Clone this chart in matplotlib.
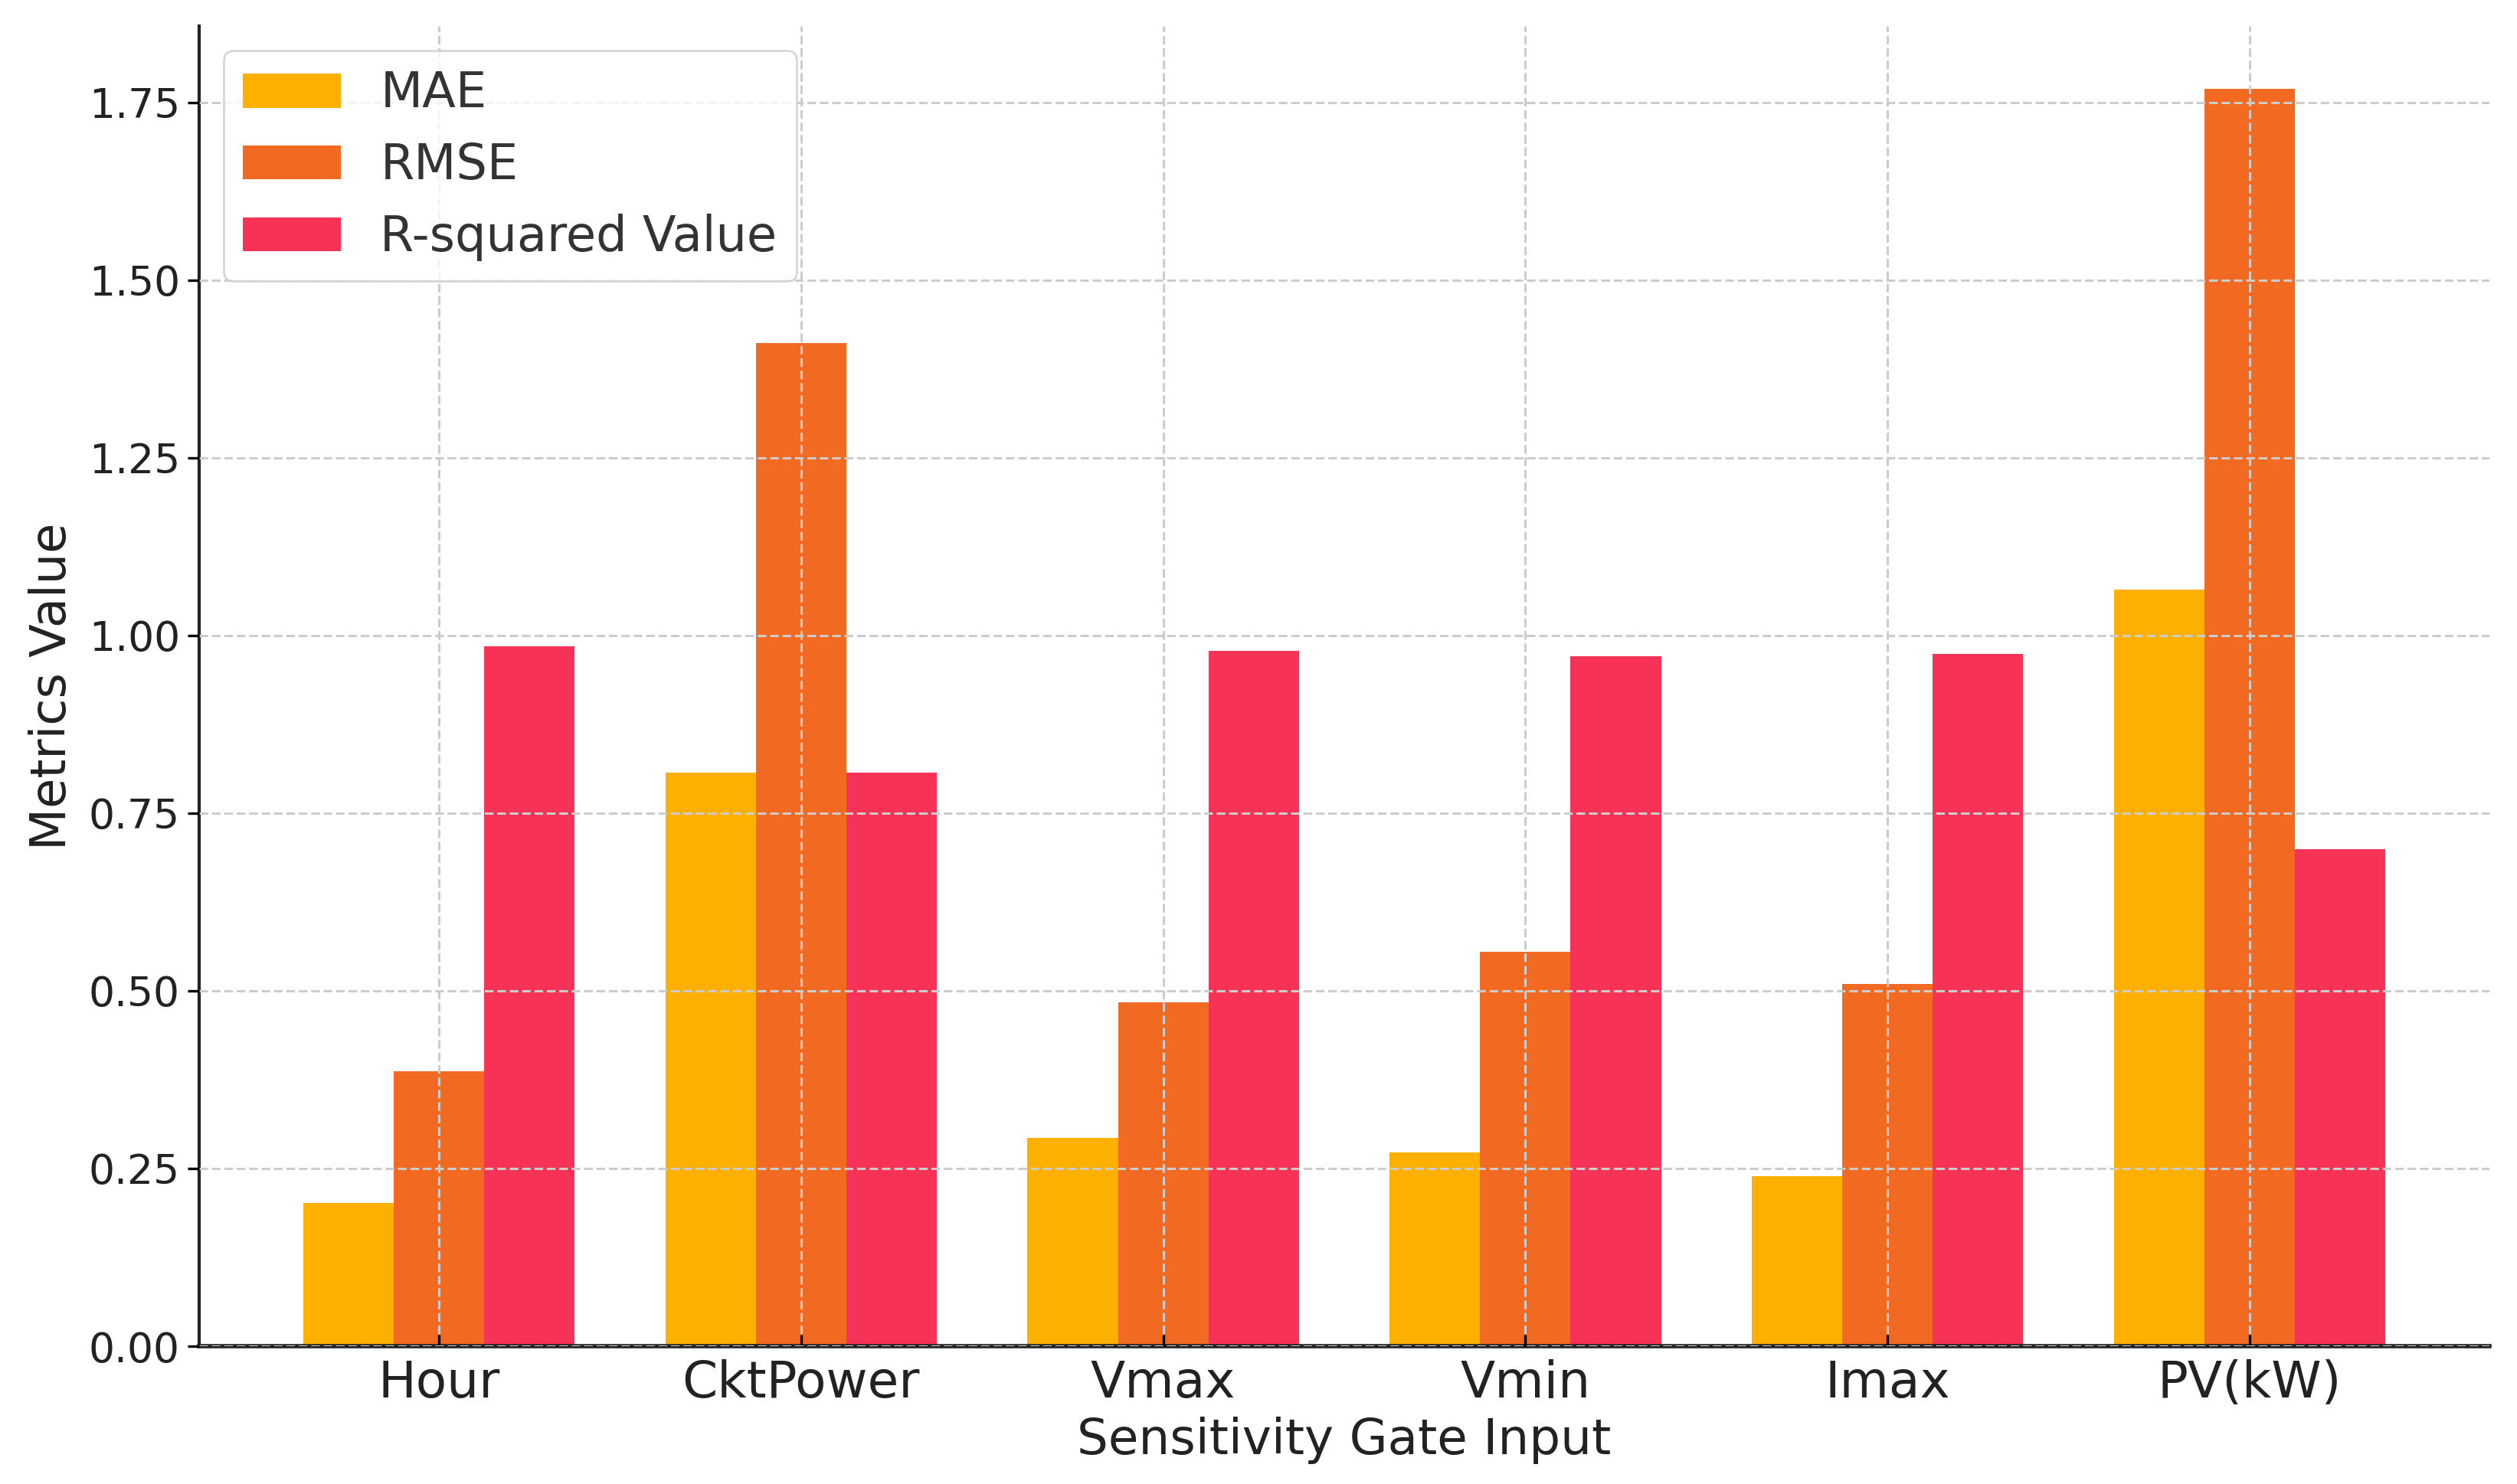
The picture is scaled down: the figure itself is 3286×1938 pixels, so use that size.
import matplotlib
matplotlib.use("Agg")
import matplotlib.pyplot as plt
import numpy as np

categories = ["Hour", "CktPower", "Vmax", "Vmin", "Imax", "PV(kW)"]
mae = [0.202, 0.807, 0.293, 0.273, 0.239, 1.064]
rmse = [0.387, 1.411, 0.484, 0.555, 0.510, 1.769]
r2 = [0.985, 0.807, 0.978, 0.971, 0.974, 0.699]
series_names = ["MAE", "RMSE", "R-squared Value"]
colors = ["#FEB000", "#F26A22", "#F63257"]

plt.rcParams['font.family'] = ['DejaVu Sans']
fig = plt.figure(figsize=(16.435, 9.69), dpi=200)
ax = fig.add_axes([260/3287, 1 - 1758/1938, (3250-260)/3287, (1758-34)/1938])

x = np.arange(len(categories))
w = 0.25
for i, (vals, name, c) in enumerate(zip([mae, rmse, r2], series_names, colors)):
    ax.bar(x + (i - 1) * w, vals, w, label=name, color=c)

ax.set_xticks(x)
ax.set_xticklabels(categories, fontsize=23.8, color="#222222")
ax.set_yticks([0, 0.25, 0.5, 0.75, 1.0, 1.25, 1.5, 1.75])
ax.set_yticklabels(["0.00", "0.25", "0.50", "0.75", "1.00", "1.25", "1.50", "1.75"], fontsize=19.3, color="#222222")
ax.tick_params(axis='x', direction='in', length=5.5, width=1.2, pad=6)
ax.tick_params(axis='y', direction='out', length=5.5, width=1.2)
ax.set_xlabel("Sensitivity Gate Input", fontsize=23.2, color="#222222", labelpad=4)
ax.set_ylabel("Metrics Value", fontsize=23, color="#222222", labelpad=6)

ax.set_axisbelow(False)
ax.grid(True, linestyle='--', color='#cccccc', linewidth=1.1)
for s in ['top', 'right']:
    ax.spines[s].set_visible(False)
ax.spines['left'].set_linewidth(1.5)
ax.spines['bottom'].set_linewidth(2.0)
for s in ['left', 'bottom']:
    ax.spines[s].set_color('#222222')

leg = ax.legend(loc='upper left', fontsize=23, frameon=True, fancybox=True)
for t in leg.get_texts():
    t.set_color('#333333')
leg.get_frame().set_edgecolor('#cccccc')

fig.savefig("out.png", dpi=200)
